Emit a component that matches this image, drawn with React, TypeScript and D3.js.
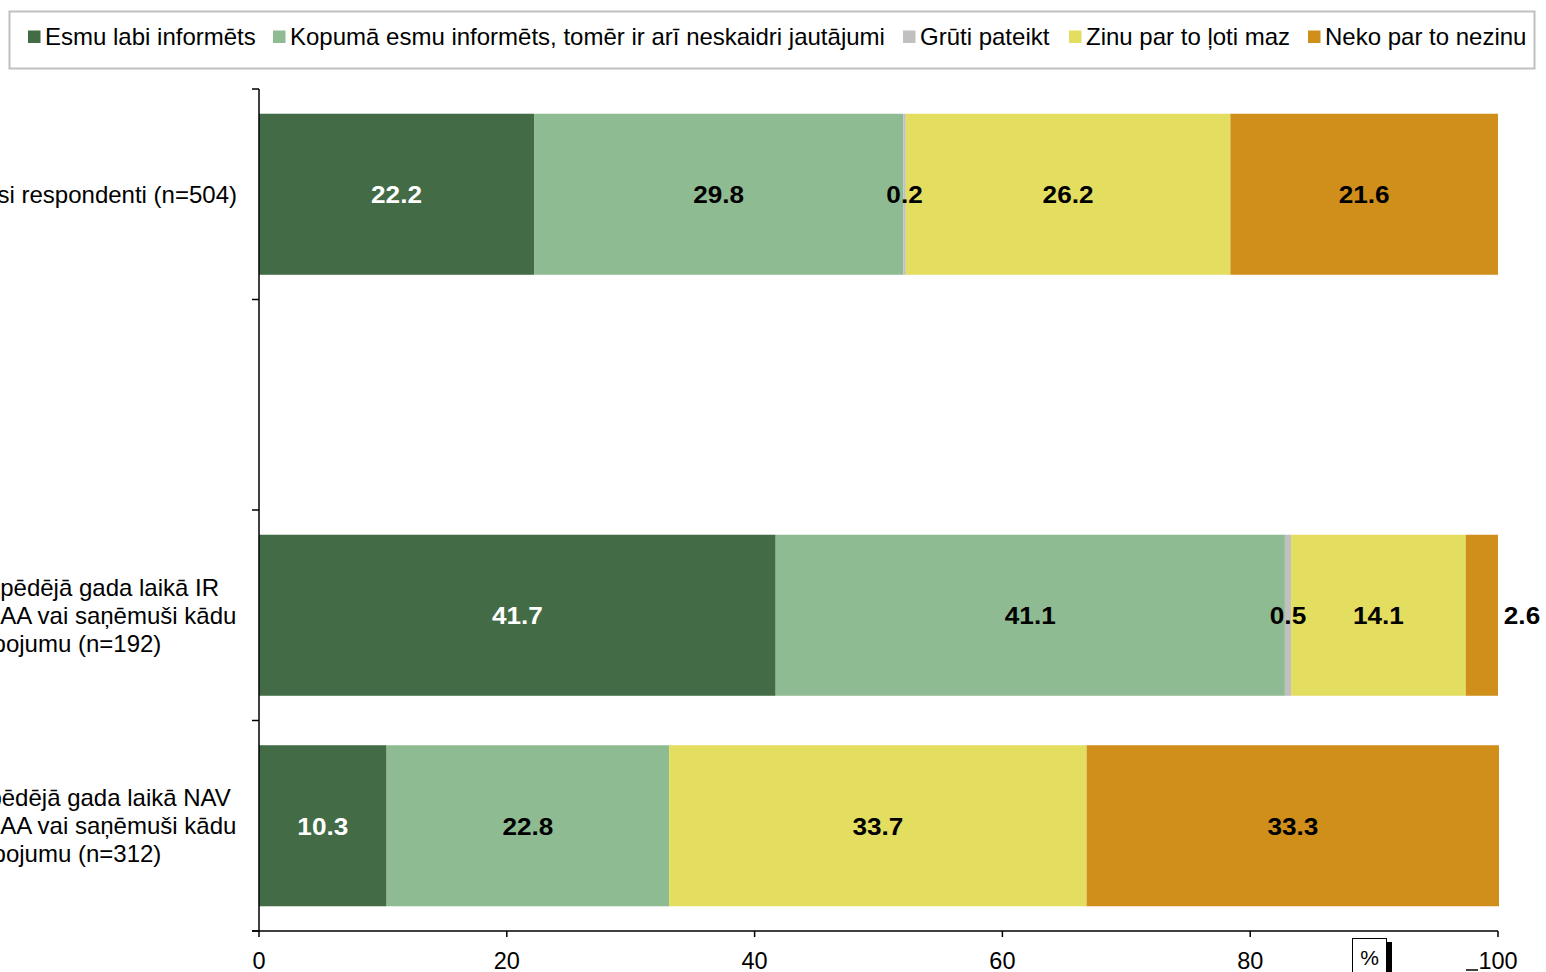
import React, { useMemo } from "react";
import * as d3 from "d3";

const seriesNames = [
  "Esmu labi informēts",
  "Kopumā esmu informēts, tomēr ir arī neskaidri jautājumi",
  "Grūti pateikt",
  "Zinu par to ļoti maz",
  "Neko par to nezinu",
];
const seriesColors = ["#426b46", "#8fbb92", "#c0c0c0", "#e3dd60", "#cf8f1a"];
const labelColors = ["#ffffff", "#000000", "#000000", "#000000", "#000000"];

const categories = ["all", "gap", "ir", "nav"];
const categoryLabels: string[][] = [
  ["Visi respondenti (n=504)"],
  [],
  ["Klienti, kas pēdējā gada laikā IR", "vērsušies VSAA vai saņēmuši kādu", "pakalpojumu (n=192)"],
  ["Klienti, kas pēdējā gada laikā NAV", "vērsušies VSAA vai saņēmuši kādu", "pakalpojumu (n=312)"],
];
const values: (number | null)[][] = [
  [22.2, 29.8, 0.2, 26.2, 21.6],
  [],
  [41.7, 41.1, 0.5, 14.1, 2.6],
  [10.3, 22.8, null, 33.7, 33.3],
];
const xTicks = [0, 20, 40, 60, 80, 100];

const W = 1546;
const H = 972;
const FONT = "'Liberation Sans', Arial, sans-serif";

export default function App() {
  const x = d3.scaleLinear().domain([0, 100]).range([259, 1498]);
  const y = d3.scaleBand().domain(categories).range([89, 931]).paddingInner(0.235).paddingOuter(0.1175);
  const step = y.step();
  const bh = y.bandwidth();
  const legendX = [28, 273, 903, 1069, 1308];

  const measure = useMemo(() => {
    const c = document.createElement("canvas").getContext("2d")!;
    c.font = `24px ${FONT}`;
    return (s: string) => c.measureText(s).width;
  }, []);

  const segs: any[] = [];
  categories.forEach((c, ci) => {
    let cum = 0;
    values[ci].forEach((v, si) => {
      if (v == null) return;
      const start = cum;
      cum += v;
      segs.push({ c, ci, si, v, x0: x(start), x1: Math.min(x(cum), x(100) + 1), last: si === values[ci].length - 1 });
    });
  });

  return (
    <svg
      width={W}
      height={H}
      style={{ position: "absolute", left: 0, top: 0, background: "#fff" }}
      fontFamily={FONT}
    >
      {/* legend */}
      <rect x={9.5} y={11.5} width={1525} height={57} fill="#fff" stroke="#c0c0c0" strokeWidth={2} />
      {seriesNames.map((n, i) => (
        <g key={n}>
          <rect x={legendX[i]} y={30.5} width={12.5} height={12.5} fill={seriesColors[i]} />
          <text x={legendX[i] + 17} y={45} fontSize={24} fill="#000">
            {n}
          </text>
        </g>
      ))}

      {/* bars */}
      {segs.map((s, k) => (
        <rect key={k} x={s.x0} y={y(s.c)!} width={s.x1 - s.x0} height={bh} fill={seriesColors[s.si]} />
      ))}
      {segs.map((s, k) => {
        const w = s.x1 - s.x0;
        const outside = s.last && w < 50;
        const lx = outside ? x(100) + 24 : (s.x0 + s.x1) / 2;
        const ly = y(s.c)! + bh / 2 + 9;
        return (
          <text
            key={k}
            transform={`translate(${lx},${ly}) scale(1.09,1)`}
            textAnchor="middle"
            fontSize={24}
            fontWeight="bold"
            fill={outside ? "#000" : labelColors[s.si]}
          >
            {s.v.toFixed(1)}
          </text>
        );
      })}

      {/* category labels: block right-aligned, lines centred */}
      {categories.map((c, ci) => {
        const lines = categoryLabels[ci];
        if (!lines.length) return null;
        const maxW = Math.max(...lines.map(measure));
        const cx = 237 - maxW / 2;
        const cy = y(c)! + bh / 2;
        const n = lines.length;
        return (
          <g key={c}>
            {lines.map((line, li) => (
              <text
                key={li}
                x={n === 1 ? 237 : cx}
                y={cy + 8.5 + (li - (n - 1) / 2) * 28}
                textAnchor={n === 1 ? "end" : "middle"}
                fontSize={24}
                fill="#000"
              >
                {line}
              </text>
            ))}
          </g>
        );
      })}

      {/* y axis */}
      <line x1={259} x2={259} y1={89} y2={931} stroke="#000" strokeWidth={1.5} />
      {d3.range(categories.length + 1).map((i) => {
        const ty = 89 + i * step;
        return <line key={i} x1={252} x2={259} y1={ty} y2={ty} stroke="#000" strokeWidth={1.5} />;
      })}

      {/* x axis */}
      <line x1={252} x2={1498} y1={931} y2={931} stroke="#000" strokeWidth={1.5} />
      {xTicks.map((t) => (
        <g key={t}>
          <line x1={x(t)} x2={x(t)} y1={931} y2={937} stroke="#000" strokeWidth={1.5} />
          <text x={x(t)} y={969} textAnchor="middle" fontSize={23.5} fill="#000">
            {t}
          </text>
        </g>
      ))}
      <line x1={1466} x2={1478} y1={970} y2={970} stroke="#000" strokeWidth={1.5} />

      {/* % unit box */}
      <rect x={1387} y={942} width={5} height={32} fill="#000" />
      <rect x={1352.5} y={938.5} width={34} height={36} fill="#fff" stroke="#000" strokeWidth={1} />
      <text x={1369.5} y={965} textAnchor="middle" fontSize={21} fill="#000">
        %
      </text>
    </svg>
  );
}
